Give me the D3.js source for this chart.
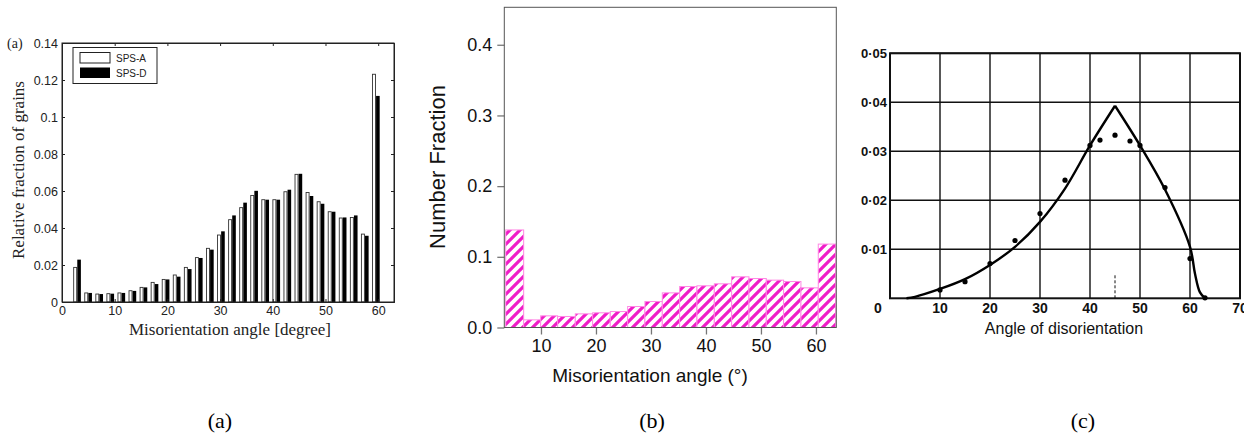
<!DOCTYPE html>
<html><head><meta charset="utf-8">
<script src="https://cdn.jsdelivr.net/npm/d3@7/dist/d3.min.js"></script>
<style>body{margin:0;background:#fff}svg{display:block}</style>
</head><body>
<svg id="fig" width="1254" height="441"></svg>
<script>
// ---------- Panel (a) data ----------
const aAngles = [2.9,5.0,7.1,9.2,11.3,13.4,15.5,17.6,19.7,21.8,23.9,26.0,28.1,30.2,32.3,34.4,36.5,38.6,40.7,42.8,44.9,47.0,49.1,51.2,53.3,55.4,57.5,59.6];
const aSpsA = [0.0187,0.0049,0.0043,0.0045,0.0049,0.0061,0.0079,0.0106,0.0122,0.0146,0.0187,0.0240,0.0290,0.0362,0.0445,0.0510,0.0576,0.0553,0.0553,0.0596,0.0690,0.0592,0.0542,0.0488,0.0454,0.0457,0.0367,0.1231];
const aSpsD = [0.0229,0.0049,0.0043,0.0045,0.0049,0.0060,0.0079,0.0097,0.0122,0.0137,0.0178,0.0238,0.0283,0.0382,0.0468,0.0537,0.0601,0.0553,0.0553,0.0607,0.0693,0.0573,0.0531,0.0488,0.0457,0.0468,0.0358,0.1114];
const aXTicks = [0,10,20,30,40,50,60];
const aYTicks = [0,0.02,0.04,0.06,0.08,0.1,0.12,0.14];
const aYTickLabels = ["0","0.02","0.04","0.06","0.08","0.1","0.12","0.14"];
const aSeries = ["SPS-A","SPS-D"];

// ---------- Panel (b) data ----------
const bEdges = [3.58,6.85,9.94,13.03,16.24,19.39,22.6,25.76,28.9,32.06,35.21,38.36,41.52,44.67,47.82,50.97,54.12,57.27,60.42,63.58];
const bValues = [0.138,0.0108,0.0165,0.0156,0.0193,0.0208,0.0226,0.0297,0.0368,0.049,0.058,0.059,0.0618,0.0717,0.0693,0.067,0.0651,0.0561,0.118];
const bXTicks = [10,20,30,40,50,60];
const bYTicks = [0.0,0.1,0.2,0.3,0.4];

// ---------- Panel (c) data ----------
const cCurveLeftX = [3.3,5,10,15,20,25,30,35,40,45];
const cCurveLeftY = [0,0.0003,0.0019,0.0039,0.0068,0.0105,0.0156,0.0224,0.0312,0.0393];
const cCurveRightX = [45,50,55,60,61,62,63];
const cCurveRightY = [0.0393,0.0312,0.0222,0.0105,0.005,0.0012,0];
const cDotX = [10,15,20,25,30,35,40,42,45,48,50,55,60,63];
const cDotY = [0.0017,0.0034,0.0071,0.0118,0.0173,0.0241,0.0312,0.0323,0.0333,0.0321,0.0312,0.0226,0.0081,0.0001];
const cXTicks = [0,10,20,30,40,50,60,70];
const cYTicks = [0.01,0.02,0.03,0.04,0.05];
const cYTickLabels = ["0·01","0·02","0·03","0·04","0·05"];
const cXTickLabels = ["0","10","20","30","40","50","60","70"];

const captions = ["(a)","(b)","(c)"];

const svg = d3.select("#fig");
const defs = svg.append("defs");

// ================= Panel (a) =================
(function(){
  const g = svg.append("g");
  const x = d3.scaleLinear().domain([0,63]).range([62,394]);
  const y = d3.scaleLinear().domain([0,0.14]).range([302,43]);
  const bw = 3.6;
  const sans = "Liberation Sans, Arial, sans-serif";
  const serif = "Liberation Serif, Times New Roman, serif";

  g.selectAll("rect.a").data(aAngles).join("rect")
    .attr("x", (d)=>x(d)-bw).attr("y",(d,i)=>y(aSpsA[i]))
    .attr("width", bw-0.6).attr("height",(d,i)=>y(0)-y(aSpsA[i]))
    .attr("fill","#fff").attr("stroke","#333").attr("stroke-width",0.9);
  g.selectAll("rect.d").data(aAngles).join("rect")
    .attr("x", (d)=>x(d)).attr("y",(d,i)=>y(aSpsD[i]))
    .attr("width", bw).attr("height",(d,i)=>y(0)-y(aSpsD[i]))
    .attr("fill","#000");

  const ax = g.append("g").attr("transform",`translate(0,${y(0)})`)
    .call(d3.axisBottom(x).tickValues(aXTicks).tickSize(-3).tickPadding(4).tickFormat(d3.format("d")));
  const axTop = g.append("g").attr("transform",`translate(0,${y(0.14)})`)
    .call(d3.axisTop(x).tickValues(aXTicks).tickSize(-3).tickFormat(""));
  const ay = g.append("g").attr("transform",`translate(${x(0)},0)`)
    .call(d3.axisLeft(y).tickValues(aYTicks).tickSize(-3).tickPadding(4).tickFormat((d,i)=>aYTickLabels[i]));
  const ayR = g.append("g").attr("transform",`translate(${x(63)},0)`)
    .call(d3.axisRight(y).tickValues(aYTicks).tickSize(-3).tickFormat(""));
  [ax,axTop,ay,ayR].forEach(s=>{
    s.select(".domain").attr("stroke","#222");
    s.selectAll("line").attr("stroke","#222");
    s.selectAll("text").attr("font-family",sans).attr("font-size",12.5).attr("fill","#222");
  });
  g.append("rect").attr("x",x(0)).attr("y",y(0.14)).attr("width",x(63)-x(0)).attr("height",y(0)-y(0.14))
    .attr("fill","none").attr("stroke","#222").attr("stroke-width",1);

  const lg = g.append("g");
  lg.append("rect").attr("x",73).attr("y",47.5).attr("width",84).attr("height",36)
    .attr("fill","#fff").attr("stroke","#222").attr("stroke-width",1);
  lg.append("rect").attr("x",80).attr("y",52.5).attr("width",30).attr("height",10.5)
    .attr("fill","#fff").attr("stroke","#222").attr("stroke-width",1);
  lg.append("rect").attr("x",80).attr("y",67.5).attr("width",30).attr("height",10.5)
    .attr("fill","#000");
  lg.selectAll("text").data(aSeries).join("text")
    .attr("x",116).attr("y",(d,i)=>61.5+i*15).text(d=>d)
    .attr("font-family",sans).attr("font-size",10).attr("fill","#222");

  g.append("text").attr("x",7).attr("y",48).text("(a)")
    .attr("font-family",serif).attr("font-size",14).attr("fill","#222");
  g.append("text").attr("transform","translate(24,170) rotate(-90)").attr("text-anchor","middle")
    .text("Relative fraction of grains").attr("font-family",serif).attr("font-size",17).attr("fill","#222");
  g.append("text").attr("x",230).attr("y",335).attr("text-anchor","middle")
    .text("Misorientation angle [degree]").attr("font-family",serif).attr("font-size",17).attr("fill","#222");
})();

// ================= Panel (b) =================
(function(){
  const g = svg.append("g");
  const x = d3.scaleLinear().domain([3.33,63.7]).range([504.3,836.3]);
  const y = d3.scaleLinear().domain([0,0.453]).range([327.5,7.3]);
  const sans = "Liberation Sans, Arial, sans-serif";
  const pat = defs.append("pattern").attr("id","hatch").attr("patternUnits","userSpaceOnUse")
    .attr("width",10).attr("height",10);
  pat.append("rect").attr("width",10).attr("height",10).attr("fill","#fff");
  pat.append("path").attr("d","M-3,3 L3,-3 M0,10 L10,0 M7,13 L13,7")
    .attr("stroke","#f01cc8").attr("stroke-width",3.2);

  g.selectAll("rect.bar").data(bValues).join("rect")
    .attr("x",(d,i)=>x(bEdges[i])).attr("y",d=>y(d))
    .attr("width",(d,i)=>x(bEdges[i+1])-x(bEdges[i])).attr("height",d=>y(0)-y(d))
    .attr("fill","url(#hatch)").attr("stroke","#ff88e4").attr("stroke-width",1);

  const ax = g.append("g").attr("transform",`translate(0,${y(0)})`)
    .call(d3.axisBottom(x).tickValues(bXTicks).tickSize(7).tickPadding(5).tickFormat(d3.format("d")));
  const ay = g.append("g").attr("transform",`translate(${x(3.33)},0)`)
    .call(d3.axisLeft(y).tickValues(bYTicks).tickSize(7).tickPadding(5).tickFormat(d3.format(".1f")));
  [ax,ay].forEach(s=>{
    s.select(".domain").remove();
    s.selectAll("line").attr("stroke","#777").attr("stroke-width",1.3);
    s.selectAll("text").attr("font-family",sans).attr("font-size",18).attr("fill","#111");
  });
  g.append("rect").attr("x",x(3.33)).attr("y",y(0.453)).attr("width",x(63.7)-x(3.33)).attr("height",y(0)-y(0.453))
    .attr("fill","none").attr("stroke","#555").attr("stroke-width",1);
  g.append("text").attr("transform","translate(437,167) rotate(-90)").attr("text-anchor","middle").attr("dy","0.35em")
    .text("Number Fraction").attr("font-family",sans).attr("font-size",22).attr("fill","#111");
  g.append("text").attr("x",650).attr("y",382).attr("text-anchor","middle")
    .text("Misorientation angle (°)").attr("font-family",sans).attr("font-size",19).attr("fill","#111");
})();

// ================= Panel (c) =================
(function(){
  const g = svg.append("g");
  const clip = defs.append("clipPath").attr("id","cclip");
  clip.append("rect").attr("x",840).attr("y",0).attr("width",404).attr("height",441);
  g.attr("clip-path","url(#cclip)");
  const x = d3.scaleLinear().domain([0,70]).range([890,1240]);
  const y = d3.scaleLinear().domain([0,0.05]).range([298.3,53.3]);
  const font = "Liberation Sans, Arial, sans-serif";

  g.selectAll("line.vg").data(cXTicks).join("line")
    .attr("x1",d=>x(d)).attr("x2",d=>x(d)).attr("y1",y(0)).attr("y2",y(0.05))
    .attr("stroke","#111").attr("stroke-width",1.4);
  g.selectAll("line.hg").data(cYTicks).join("line")
    .attr("x1",x(0)).attr("x2",x(70)).attr("y1",d=>y(d)).attr("y2",d=>y(d))
    .attr("stroke","#111").attr("stroke-width",1.4);
  g.append("rect").attr("x",x(0)).attr("y",y(0.05)).attr("width",x(70)-x(0)).attr("height",y(0)-y(0.05))
    .attr("fill","none").attr("stroke","#111").attr("stroke-width",2);

  g.append("line").attr("x1",x(45)).attr("x2",x(45)).attr("y1",y(0)).attr("y2",y(0.0048))
    .attr("stroke","#111").attr("stroke-width",1).attr("stroke-dasharray","3,2");

  const line = d3.line().x(d=>x(d[0])).y(d=>y(d[1])).curve(d3.curveCatmullRom.alpha(0.5));
  g.append("path").datum(cCurveLeftX.map((v,i)=>[v,cCurveLeftY[i]])).attr("d",line)
    .attr("fill","none").attr("stroke","#000").attr("stroke-width",2.4);
  g.append("path").datum(cCurveRightX.map((v,i)=>[v,cCurveRightY[i]])).attr("d",line)
    .attr("fill","none").attr("stroke","#000").attr("stroke-width",2.4);

  g.selectAll("circle").data(cDotX).join("circle")
    .attr("cx",d=>x(d)).attr("cy",(d,i)=>y(cDotY[i])).attr("r",2.6).attr("fill","#000");

  g.selectAll("text.yl").data(cYTicks).join("text")
    .attr("x",887).attr("y",d=>y(d)).attr("dy","0.35em").attr("text-anchor","end")
    .text((d,i)=>cYTickLabels[i]).attr("font-family",font).attr("font-weight","bold").attr("font-size",13).attr("fill","#111");
  g.selectAll("text.xl").data(cXTicks).join("text")
    .attr("x",(d,i)=> i===0 ? 878 : x(d)).attr("y",308).attr("dy","0.35em").attr("text-anchor","middle")
    .text((d,i)=>cXTickLabels[i]).attr("font-family",font).attr("font-weight","bold").attr("font-size",14).attr("fill","#111");
  g.append("text").attr("x",1064).attr("y",328).attr("dy","0.35em").attr("text-anchor","middle")
    .text("Angle of disorientation").attr("font-family",font).attr("font-size",16).attr("fill","#111");
})();

svg.selectAll("text.cap").data(captions).join("text")
  .attr("x",(d,i)=>[220,652,1083][i]).attr("y",428).attr("text-anchor","middle").text(d=>d)
  .attr("font-family","Liberation Serif, Times New Roman, serif").attr("font-size",22).attr("fill","#000");
</script>
</body></html>
